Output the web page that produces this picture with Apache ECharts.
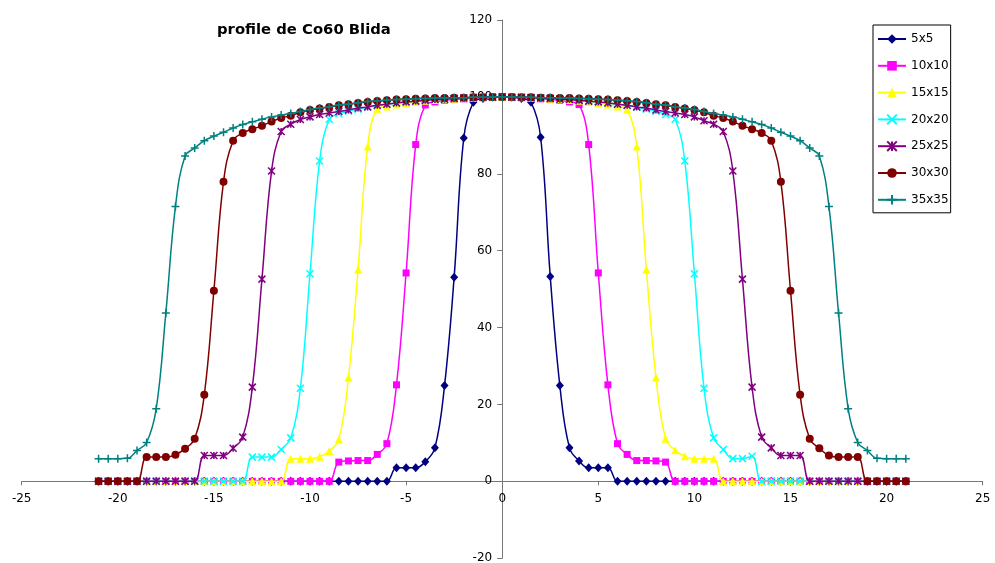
<!DOCTYPE html>
<html>
<head>
<meta charset="utf-8">
<script src="https://cdn.jsdelivr.net/npm/echarts@6/dist/echarts.min.js"></script>
<style>
html,body{margin:0;padding:0;background:#fff;}
#chart{width:995px;height:563px;}
</style>
</head>
<body>
<div id="chart"></div>
<script>
var titleText = 'profile de Co60 Blida';
var seriesNames = ['5x5', '10x10', '15x15', '20x20', '25x25', '30x30', '35x35'];
var xTicks = [-25, -20, -15, -10, -5, 0, 5, 10, 15, 20, 25];
var yTicks = [-20, 0, 20, 40, 60, 80, 100, 120];

var xs = [-21, -20.5, -20, -19.5, -19, -18.5, -18, -17.5, -17, -16.5, -16, -15.5, -15, -14.5, -14, -13.5, -13, -12.5, -12, -11.5, -11, -10.5, -10, -9.5, -9, -8.5, -8, -7.5, -7, -6.5, -6, -5.5, -5, -4.5, -4, -3.5, -3, -2.5, -2, -1.5, -1, -0.5, 0,
  0.5, 1, 1.5, 2, 2.5, 3, 3.5, 4, 4.5, 5, 5.5, 6, 6.5, 7, 7.5, 8, 8.5, 9, 9.5, 10, 10.5, 11, 11.5, 12, 12.5, 13, 13.5, 14, 14.5, 15, 15.5, 16, 16.5, 17, 17.5, 18, 18.5, 19, 19.5, 20, 20.5, 21];

var s5x5 = [0, 0, 0, 0, 0, 0, 0, 0, 0, 0, 0, 0, 0, 0, 0, 0, 0, 0, 0, 0, 0, 0, 0, 0, 0, 0, 0, 0, 0, 0, 0,
  3.5, 3.5, 3.5, 5.1, 8.7, 24.9, 53.1, 89.3, 98.6, 99.6, 99.9, 100,
  99.9, 99.6, 98.6, 89.5, 53.3, 24.9, 8.7, 5.3, 3.5, 3.5, 3.5,
  0, 0, 0, 0, 0, 0, 0, 0, 0, 0, 0, 0, 0, 0, 0, 0, 0, 0, 0, 0, 0, 0, 0, 0, 0, 0, 0, 0, 0, 0, 0];

var s10x10 = [0, 0, 0, 0, 0, 0, 0, 0, 0, 0, 0, 0, 0, 0, 0, 0, 0, 0, 0, 0, 0, 0, 0, 0, 0,
  5.0, 5.3, 5.4, 5.4, 7.0, 9.8, 25.1, 54.2, 87.6, 97.9, 98.7, 99.1, 99.3, 99.5, 99.6, 99.8, 99.9, 100,
  99.9, 99.8, 99.6, 99.5, 99.3, 99.1, 98.7, 98.0, 87.6, 54.2, 25.1, 9.8, 7.0, 5.4, 5.4, 5.3, 5.0,
  0, 0, 0, 0, 0, 0, 0, 0, 0, 0, 0, 0, 0, 0, 0, 0, 0, 0, 0, 0, 0, 0, 0, 0, 0];

var s15x15 = [0, 0, 0, 0, 0, 0, 0, 0, 0, 0, 0, 0, 0, 0, 0, 0, 0, 0, 0, 0,
  5.9, 5.9, 5.9, 6.4, 7.9, 10.9, 27.0, 55.1, 87.1, 96.9, 97.5, 98.0, 98.4, 98.7, 99.0, 99.2, 99.4, 99.5, 99.7, 99.8, 99.9, 99.9, 100,
  99.9, 99.9, 99.8, 99.7, 99.5, 99.4, 99.2, 99.0, 98.7, 98.4, 98.0, 97.5, 96.7, 87.1, 55.1, 27.0, 11.1, 8.1, 6.5, 5.9, 5.9, 5.9,
  0, 0, 0, 0, 0, 0, 0, 0, 0, 0, 0, 0, 0, 0, 0, 0, 0, 0, 0, 0];

var s20x20 = [0, 0, 0, 0, 0, 0, 0, 0, 0, 0, 0, 0, 0, 0, 0, 0,
  6.3, 6.3, 6.3, 8.3, 11.3, 24.2, 54.0, 83.3, 94.2, 95.6, 96.3, 96.8, 97.3, 97.7, 98.1, 98.4, 98.7, 98.9, 99.1, 99.3, 99.4, 99.6, 99.7, 99.8, 99.9, 99.9, 100,
  99.9, 99.9, 99.8, 99.7, 99.6, 99.4, 99.3, 99.1, 98.9, 98.7, 98.4, 98.1, 97.7, 97.3, 96.8, 96.3, 95.4, 94.2, 83.3, 54.0, 24.2, 11.3, 8.3, 5.9, 5.9, 6.5,
  0, 0, 0, 0, 0, 0, 0, 0, 0, 0, 0, 0, 0, 0, 0, 0];

var s25x25 = [0, 0, 0, 0, 0, 0, 0, 0, 0, 0, 0,
  6.7, 6.7, 6.7, 8.6, 11.5, 24.5, 52.6, 80.7, 91.0, 92.9, 94.1, 94.8, 95.4, 95.8, 96.2, 96.6, 97.1, 97.4, 97.8, 98.1, 98.4, 98.7, 98.9, 99.1, 99.3, 99.4, 99.6, 99.7, 99.8, 99.9, 99.9, 100,
  99.9, 99.9, 99.8, 99.7, 99.6, 99.4, 99.3, 99.1, 98.9, 98.7, 98.4, 98.1, 97.8, 97.4, 97.1, 96.6, 96.2, 95.8, 95.4, 94.8, 93.8, 92.9, 91.0, 80.7, 52.6, 24.5, 11.5, 8.7, 6.7, 6.7, 6.7,
  0, 0, 0, 0, 0, 0, 0, 0, 0, 0, 0];

var s30x30 = [0, 0, 0, 0, 0,
  6.3, 6.3, 6.3, 6.9, 8.5, 11.1, 22.5, 49.6, 77.9, 88.6, 90.6, 91.6, 92.5, 93.6, 94.5, 95.1, 96.0, 96.6, 97.0, 97.4, 97.8, 98.1, 98.4, 98.7, 98.9, 99.1, 99.3, 99.4, 99.5, 99.6, 99.7, 99.7, 99.8, 99.8, 99.9, 99.9, 100, 100,
  100, 99.9, 99.9, 99.8, 99.8, 99.7, 99.7, 99.6, 99.5, 99.4, 99.3, 99.1, 98.9, 98.7, 98.4, 98.1, 97.8, 97.4, 97.0, 96.6, 96.0, 95.1, 94.5, 93.6, 92.5, 91.6, 90.6, 88.6, 77.9, 49.6, 22.5, 11.1, 8.6, 6.7, 6.3, 6.3, 6.3,
  0, 0, 0, 0, 0];

var s35x35 = [5.9, 5.9, 5.9, 6.0, 8.0, 10.1, 18.9, 43.8, 71.5, 84.6, 86.7, 88.6, 89.8, 90.8, 91.9, 92.8, 93.5, 94.2, 94.8, 95.3, 95.7, 96.2, 96.7, 97.1, 97.4, 97.9, 98.1, 98.5, 98.8, 99.0, 99.2, 99.3, 99.4, 99.5, 99.6, 99.7, 99.7, 99.8, 99.8, 99.9, 99.9, 100, 100,
  100, 99.9, 99.9, 99.8, 99.8, 99.7, 99.7, 99.6, 99.5, 99.4, 99.3, 99.2, 99.0, 98.8, 98.5, 98.1, 97.9, 97.4, 97.1, 96.7, 96.2, 95.7, 95.3, 94.8, 94.2, 93.5, 92.8, 91.9, 90.8, 89.8, 88.6, 86.7, 84.6, 71.5, 43.8, 18.9, 10.1, 8.0, 6.0, 5.9, 5.9, 5.9];

var allValues = [s5x5, s10x10, s15x15, s20x20, s25x25, s30x30, s35x35];
var colors = ['#000080', '#FF00FF', '#FFFF00', '#00FFFF', '#800080', '#800000', '#008080'];
var symbols = ['diamond', 'rect', 'triangle',
  'path://M0,0L10,10M10,0L0,10',
  'path://M0,0L10,10M10,0L0,10M5,0L5,10',
  'circle',
  'path://M5,0L5,10M0,5L10,5'];
var symbolSizes = [[8, 9], 7, 8, 7, 7, 8, 8];
var borderWidths = [0, 0, 0, 1.5, 1.5, 0, 1.5];

var FONT = 'DejaVu Sans';

// plot area geometry (pixels)
var GRID_LEFT = 21.7, GRID_RIGHT = 12.3, GRID_TOP = 20, GRID_BOTTOM = 4.8;
var W = 995, H = 563;
var plotW = W - GRID_LEFT - GRID_RIGHT, plotH = H - GRID_TOP - GRID_BOTTOM;
var xMin = xTicks[0], xMax = xTicks[xTicks.length - 1];
var yMin = yTicks[0], yMax = yTicks[yTicks.length - 1];
// axes cross at zero: shift the axes from the grid edges to the zero lines
var xAxisOffset = -plotH * (0 - yMin) / (yMax - yMin);
var yAxisOffset = -plotW * (0 - xMin) / (xMax - xMin);

var series = seriesNames.map(function (name, i) {
  return {
    name: name,
    type: 'line',
    smooth: 0.4,
    data: xs.map(function (x, k) { return [x, allValues[i][k]]; }),
    symbol: symbols[i],
    symbolSize: symbolSizes[i],
    showAllSymbol: true,
    lineStyle: { color: colors[i], width: 1.5 },
    itemStyle: { color: colors[i], borderColor: colors[i], borderWidth: borderWidths[i] },
    emphasis: { disabled: true },
    z: 2 + i
  };
});

var chart = echarts.init(document.getElementById('chart'), null, { renderer: 'canvas' });
chart.setOption({
  animation: false,
  backgroundColor: '#ffffff',
  title: {
    text: titleText,
    left: 217,
    top: 23,
    padding: 0,
    textStyle: { fontFamily: FONT, fontWeight: 'bold', fontSize: 14.8, color: '#000' }
  },
  legend: {
    orient: 'vertical',
    left: 873,
    top: 25,
    padding: [8, 2, 7, 4],
    itemWidth: 28,
    itemHeight: 12,
    itemGap: 14.8,
    backgroundColor: '#fff',
    borderColor: '#000',
    borderWidth: 1,
    data: seriesNames,
    textStyle: { fontFamily: FONT, fontSize: 12, color: '#000' }
  },
  grid: { left: GRID_LEFT, right: GRID_RIGHT, top: GRID_TOP, bottom: GRID_BOTTOM, containLabel: false, outerBoundsMode: 'none' },
  xAxis: {
    type: 'value',
    position: 'bottom',
    offset: xAxisOffset,
    min: xMin,
    max: xMax,
    interval: 5,
    axisLine: { onZero: false, lineStyle: { color: '#777', width: 1 } },
    axisTick: { show: true, length: 4, lineStyle: { color: '#777' } },
    axisLabel: { margin: 12, fontFamily: FONT, fontSize: 12, color: '#000' },
    splitLine: { show: false }
  },
  yAxis: {
    type: 'value',
    position: 'left',
    offset: yAxisOffset,
    min: yMin,
    max: yMax,
    interval: 20,
    axisLine: { show: true, onZero: false, lineStyle: { color: '#777', width: 1 } },
    axisTick: { show: true, length: 5, lineStyle: { color: '#777' } },
    axisLabel: { margin: 10, fontFamily: FONT, fontSize: 12, color: '#000' },
    splitLine: { show: false }
  },
  series: series
});
</script>
</body>
</html>
